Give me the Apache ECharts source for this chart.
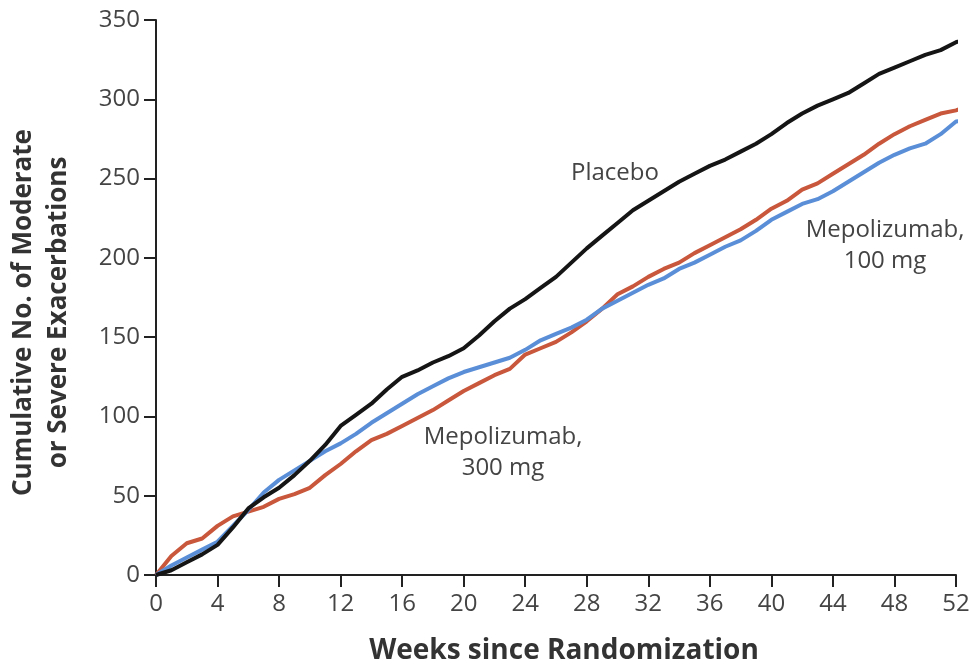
<!DOCTYPE html>
<html><head><meta charset="utf-8">
<script src="https://cdn.jsdelivr.net/npm/echarts@6/dist/echarts.min.js"></script>
<style>html,body{margin:0;padding:0;background:#fff}#c{width:973px;height:667px}</style>
</head><body><div id="c"></div>
<script>
const weeks = [0,1,2,3,4,5,6,7,8,9,10,11,12,13,14,15,16,17,18,19,20,21,22,23,24,25,26,27,28,29,30,31,32,33,34,35,36,37,38,39,40,41,42,43,44,45,46,47,48,49,50,51,52];
const placebo = [0,3,8,13,19,30,42,49,55,63,72,82,94,101,108,117,125,129,134,138,143,151,160,168,174,181,188,197,206,214,222,230,236,242,248,253,258,262,267,272,278,285,291,296,300,304,310,316,320,324,328,331,336];
const mepo100 = [0,6,11,16,21,31,41,52,60,66,72,78,83,89,96,102,108,114,119,124,128,131,134,137,142,148,152,156,161,168,173,178,183,187,193,197,202,207,211,217,224,229,234,237,242,248,254,260,265,269,272,278,286];
const mepo300 = [0,12,20,23,31,37,40,43,48,51,55,63,70,78,85,89,94,99,104,110,116,121,126,130,139,143,147,153,160,168,177,182,188,193,197,203,208,213,218,224,231,236,243,247,253,259,265,272,278,283,287,291,293];
// last recorded point of each curve (week, count), slightly past week 52
const placeboEnd = [52.9, 339];
const mepo100End = [53.0, 287];
const mepo300End = [52.3, 294];
const yTicks = [0,50,100,150,200,250,300,350];
const xTicks = [0,4,8,12,16,20,24,28,32,36,40,44,48,52];

const FONT = '"Open Sans", "Noto Sans", sans-serif';
const pair = (xs, ys, end) => xs.map((x,i)=>[x, ys[i]]).concat([end]);
const chart = echarts.init(document.getElementById('c'));
chart.setOption({
  animation:false,
  backgroundColor:'#fff',
  grid:{left:156,right:17,top:20,bottom:92,containLabel:false,outerBoundsMode:'none'},
  xAxis:{type:'value',min:0,max:52,interval:4,
    name:'Weeks since Randomization',nameLocation:'middle',nameGap:62,
    nameTextStyle:{fontFamily:FONT,fontWeight:'bold',fontSize:28,color:'#333',padding:[0,0,0,16]},
    axisLine:{onZero:false,lineStyle:{color:'#222',width:2}},
    axisTick:{inside:false,length:12,lineStyle:{color:'#222',width:2}},
    axisLabel:{fontFamily:FONT,fontSize:24,color:'#444',margin:17,
      formatter:v=>xTicks.includes(v)?String(v):''},
    splitLine:{show:false}},
  yAxis:{type:'value',min:0,max:350,interval:50,
    name:'Cumulative No. of Moderate\nor Severe Exacerbations',nameLocation:'middle',nameGap:80,nameRotate:90,
    nameTextStyle:{fontFamily:FONT,fontWeight:'bold',fontSize:26,color:'#333',lineHeight:35,padding:[0,30,0,0]},
    axisLine:{show:true,lineStyle:{color:'#222',width:2}},
    axisTick:{show:true,length:12,lineStyle:{color:'#222',width:2}},
    axisLabel:{fontFamily:FONT,fontSize:24,color:'#444',margin:16,
      formatter:v=>yTicks.includes(v)?String(v):''},
    splitLine:{show:false}},
  series:[
    {type:'line',name:'Mepolizumab, 300 mg',data:pair(weeks,mepo300,mepo300End),symbol:'none',clip:false,
      lineStyle:{color:'#c8573b',width:4}},
    {type:'line',name:'Mepolizumab, 100 mg',data:pair(weeks,mepo100,mepo100End),symbol:'none',clip:false,
      lineStyle:{color:'#5a8fd8',width:4}},
    {type:'line',name:'Placebo',data:pair(weeks,placebo,placeboEnd),symbol:'none',clip:false,
      lineStyle:{color:'#151515',width:4}}
  ],
  graphic:[
    {type:'text',x:615,y:173,style:{text:'Placebo',font:'24px '+FONT,fill:'#444',textAlign:'center',textVerticalAlign:'middle'}},
    {type:'text',x:885,y:246,style:{text:'Mepolizumab,\n100 mg',font:'24px '+FONT,fill:'#444',textAlign:'center',textVerticalAlign:'middle',lineHeight:31}},
    {type:'text',x:503,y:453,style:{text:'Mepolizumab,\n300 mg',font:'24px '+FONT,fill:'#444',textAlign:'center',textVerticalAlign:'middle',lineHeight:31}}
  ]
});
</script></body></html>
